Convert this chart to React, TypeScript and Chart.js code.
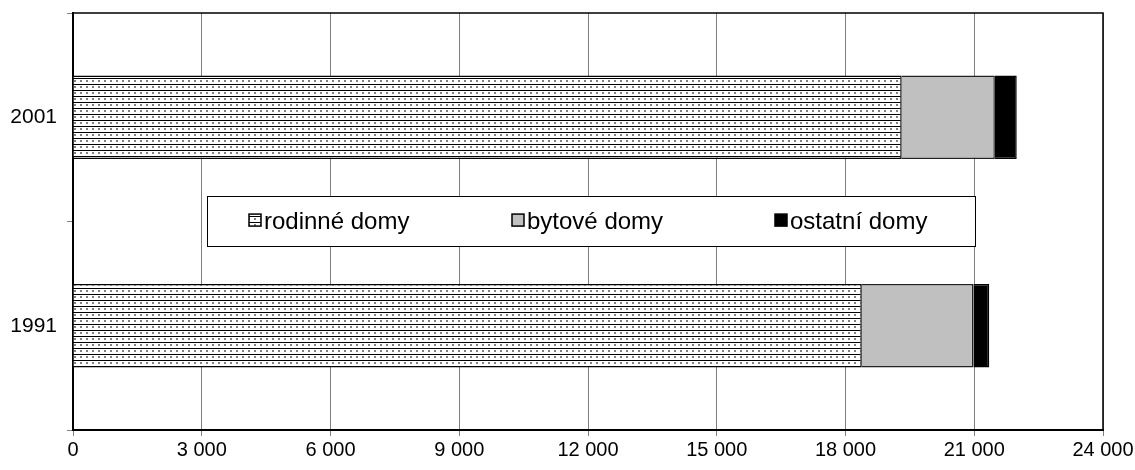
import React, { useEffect, useRef } from "react";
import { Chart, registerables } from "chart.js";

Chart.register(...registerables);

const categories = ["2001", "1991"];
const rodinneDomy = [19310, 18380];
const bytoveDomy = [2170, 2600];
const ostatniDomy = [510, 370];
const seriesLabels = ["rodinné domy", "bytové domy", "ostatní domy"];
const xTickStep = 3000;
const xMax = 24000;

const FONT = '"Liberation Sans", Arial, sans-serif';

function makePattern(): CanvasPattern | string {
  const c = document.createElement("canvas");
  c.width = 6;
  c.height = 6;
  const g = c.getContext("2d");
  if (!g) return "#fff";
  g.fillStyle = "#ffffff";
  g.fillRect(0, 0, 6, 6);
  g.fillStyle = "#000000";
  g.fillRect(0, 0, 6, 1);
  g.fillStyle = "#808080";
  g.fillRect(2, 2, 2, 2);
  const p = g.createPattern(c, "repeat");
  return p || "#fff";
}

function fmt(v: number): string {
  return String(Math.round(v)).replace(/\B(?=(\d{3})+(?!\d))/g, " ");
}

export default function App() {
  const ref = useRef<HTMLCanvasElement | null>(null);

  useEffect(() => {
    document.body.style.margin = "0";
    const canvas = ref.current;
    if (!canvas) return;
    const pattern = makePattern();
    const fills: any[] = [pattern, "#c0c0c0", "#000000"];

    const legendPlugin = {
      id: "boxLegend",
      afterDatasetsDraw(chart: any) {
        const { ctx, chartArea } = chart;
        const w = chartArea.right - chartArea.left;
        const h = chartArea.bottom - chartArea.top;
        const bx = chartArea.left + w * 0.1301;
        const bx2 = chartArea.left + w * 0.8757;
        const by = chartArea.top + h * 0.439;
        const by2 = chartArea.top + h * 0.559;
        ctx.save();
        ctx.fillStyle = "#fff";
        ctx.fillRect(bx, by, bx2 - bx, by2 - by);
        ctx.strokeStyle = "#000";
        ctx.lineWidth = 1;
        ctx.strokeRect(Math.round(bx) + 0.5, Math.round(by) + 0.5, Math.round(bx2 - bx), Math.round(by2 - by));
        const cy = (by + by2) / 2;
        ctx.font = `24px ${FONT}`;
        ctx.textBaseline = "middle";
        ctx.textAlign = "left";
        seriesLabels.forEach((lab, i) => {
          const sx = bx + 42 + i * 263;
          const sy = cy - 7;
          ctx.fillStyle = fills[i];
          ctx.fillRect(sx, sy, 12, 12);
          ctx.strokeStyle = "#000";
          ctx.lineWidth = 1.5;
          ctx.strokeRect(sx, sy, 12, 12);
          ctx.fillStyle = "#000";
          ctx.fillText(lab, sx + 15, cy + 1);
        });
        ctx.restore();
      },
      afterDraw(chart: any) {
        const { ctx, chartArea } = chart;
        ctx.save();
        ctx.strokeStyle = "#000";
        ctx.lineWidth = 1.5;
        ctx.beginPath();
        ctx.moveTo(chartArea.left, chartArea.top);
        ctx.lineTo(chartArea.right, chartArea.top);
        ctx.lineTo(chartArea.right, chartArea.bottom);
        ctx.stroke();
        ctx.restore();
      },
    };

    const chart = new Chart(canvas, {
      type: "bar",
      data: {
        labels: categories,
        datasets: [
          { label: seriesLabels[0], data: rodinneDomy, backgroundColor: fills[0], borderColor: "#000", borderWidth: 1.5 },
          { label: seriesLabels[1], data: bytoveDomy, backgroundColor: fills[1], borderColor: "#222", borderWidth: 1.5 },
          { label: seriesLabels[2], data: ostatniDomy, backgroundColor: fills[2], borderColor: "#000", borderWidth: 1.5 },
        ],
      },
      options: {
        indexAxis: "y",
        animation: false,
        responsive: false,
        maintainAspectRatio: false,
        devicePixelRatio: 1,
        categoryPercentage: 1,
        barPercentage: 0.4,
        layout: { padding: { top: 13, right: 32, left: 0, bottom: 0 } },
        plugins: { legend: { display: false }, tooltip: { enabled: false } },
        scales: {
          x: {
            stacked: true,
            min: 0,
            max: xMax,
            afterFit(scale: any) {
              scale.height = 40;
              scale.paddingLeft = 0;
              scale.paddingRight = 0;
            },
            ticks: {
              stepSize: xTickStep,
              color: "#000",
              font: { family: FONT, size: 20 },
              padding: 2,
              maxRotation: 0,
              callback: (v: any) => fmt(Number(v)),
            },
            grid: { color: "#808080", lineWidth: 1, tickLength: 6 },
            border: { display: true, color: "#000", width: 2 },
          },
          y: {
            stacked: true,
            afterFit(scale: any) {
              scale.width = 73;
              scale.paddingTop = 0;
              scale.paddingBottom = 0;
            },
            ticks: {
              color: "#000",
              font: { family: FONT, size: 21 },
              padding: 10,
            },
            grid: { offset: true, drawOnChartArea: false, color: "#808080", lineWidth: 1, tickLength: 6 },
            border: { display: true, color: "#000", width: 2 },
          },
        },
      },
      plugins: [legendPlugin],
    } as any);

    return () => chart.destroy();
  }, []);

  return (
    <div style={{ position: "absolute", left: 0, top: 0, width: 1135, height: 470, background: "#fff" }}>
      <canvas ref={ref} width={1135} height={470} style={{ width: 1135, height: 470, display: "block" }} />
    </div>
  );
}
